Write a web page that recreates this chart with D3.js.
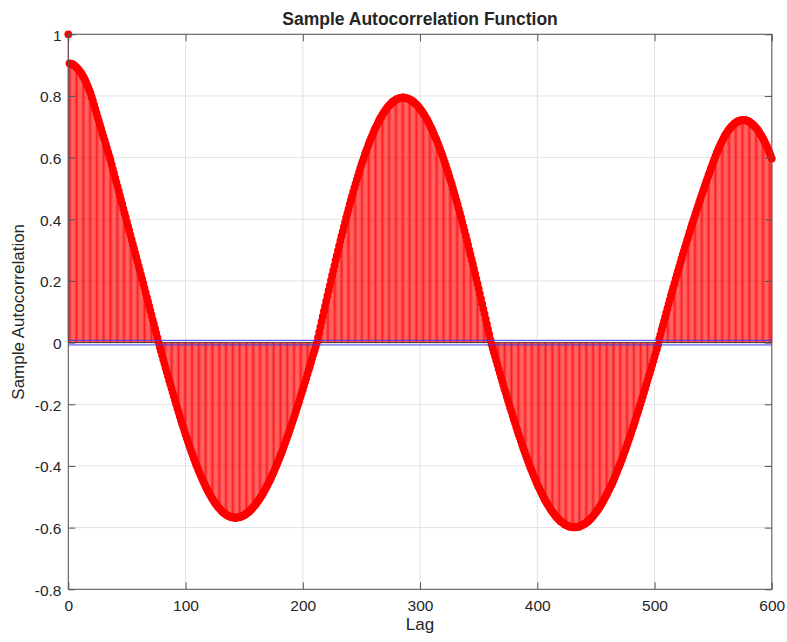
<!DOCTYPE html>
<html>
<head>
<meta charset="utf-8">
<script src="https://cdn.jsdelivr.net/npm/d3@7"></script>
<style>
  html, body { margin: 0; padding: 0; background: #fff; }
  svg text { font-family: "Liberation Sans", Arial, Helvetica, sans-serif; fill: #262626; }
</style>
</head>
<body>
<div id="chart"></div>
<script>
// sample autocorrelation for lags 0..600 (one row = 10 lags)
const acf = [
  1.000,
  0.906, 0.905, 0.904, 0.902, 0.899, 0.896, 0.893, 0.889, 0.884, 0.879,
  0.874, 0.868, 0.861, 0.854, 0.846, 0.837, 0.828, 0.818, 0.808, 0.796,
  0.784, 0.771, 0.758, 0.745, 0.732, 0.720, 0.707, 0.694, 0.681, 0.668,
  0.656, 0.643, 0.630, 0.617, 0.604, 0.592, 0.577, 0.563, 0.549, 0.534,
  0.520, 0.506, 0.492, 0.477, 0.463, 0.449, 0.434, 0.420, 0.406, 0.391,
  0.377, 0.363, 0.349, 0.334, 0.320, 0.306, 0.291, 0.277, 0.263, 0.248,
  0.234, 0.220, 0.206, 0.191, 0.177, 0.162, 0.147, 0.133, 0.118, 0.104,
  0.089, 0.074, 0.060, 0.045, 0.031, 0.016, 0.001, -0.014, -0.027, -0.041,
  -0.055, -0.068, -0.082, -0.095, -0.108, -0.122, -0.135, -0.148, -0.161, -0.174,
  -0.187, -0.200, -0.213, -0.225, -0.238, -0.250, -0.262, -0.274, -0.286, -0.298,
  -0.309, -0.321, -0.332, -0.343, -0.354, -0.364, -0.375, -0.385, -0.395, -0.404,
  -0.414, -0.423, -0.432, -0.441, -0.449, -0.457, -0.466, -0.473, -0.480, -0.488,
  -0.494, -0.501, -0.507, -0.513, -0.519, -0.524, -0.529, -0.534, -0.538, -0.542,
  -0.547, -0.550, -0.553, -0.556, -0.559, -0.561, -0.563, -0.564, -0.566, -0.567,
  -0.567, -0.568, -0.568, -0.567, -0.567, -0.566, -0.565, -0.563, -0.561, -0.560,
  -0.557, -0.554, -0.551, -0.549, -0.545, -0.541, -0.537, -0.533, -0.528, -0.523,
  -0.518, -0.513, -0.507, -0.501, -0.496, -0.489, -0.482, -0.475, -0.469, -0.461,
  -0.453, -0.446, -0.438, -0.429, -0.421, -0.412, -0.403, -0.394, -0.385, -0.375,
  -0.366, -0.356, -0.346, -0.335, -0.325, -0.314, -0.304, -0.293, -0.282, -0.270,
  -0.259, -0.248, -0.236, -0.224, -0.212, -0.201, -0.189, -0.176, -0.164, -0.152,
  -0.140, -0.127, -0.115, -0.102, -0.089, -0.077, -0.064, -0.051, -0.038, -0.026,
  -0.013, 0.000, 0.017, 0.034, 0.051, 0.068, 0.085, 0.102, 0.118, 0.135,
  0.152, 0.169, 0.185, 0.202, 0.218, 0.234, 0.250, 0.267, 0.282, 0.298,
  0.314, 0.330, 0.345, 0.360, 0.375, 0.390, 0.405, 0.419, 0.433, 0.448,
  0.462, 0.475, 0.489, 0.502, 0.515, 0.528, 0.540, 0.553, 0.565, 0.577,
  0.588, 0.599, 0.611, 0.621, 0.631, 0.642, 0.652, 0.661, 0.670, 0.679,
  0.689, 0.696, 0.704, 0.712, 0.720, 0.727, 0.733, 0.740, 0.746, 0.751,
  0.757, 0.762, 0.767, 0.771, 0.774, 0.778, 0.782, 0.784, 0.787, 0.789,
  0.791, 0.792, 0.793, 0.794, 0.795, 0.795, 0.794, 0.793, 0.792, 0.791,
  0.789, 0.787, 0.785, 0.782, 0.779, 0.775, 0.772, 0.768, 0.763, 0.758,
  0.753, 0.748, 0.742, 0.736, 0.729, 0.723, 0.716, 0.708, 0.700, 0.693,
  0.684, 0.675, 0.666, 0.658, 0.648, 0.638, 0.628, 0.618, 0.608, 0.596,
  0.585, 0.574, 0.563, 0.551, 0.538, 0.526, 0.514, 0.501, 0.488, 0.474,
  0.461, 0.448, 0.434, 0.420, 0.406, 0.391, 0.376, 0.362, 0.347, 0.332,
  0.317, 0.301, 0.286, 0.270, 0.255, 0.239, 0.223, 0.207, 0.191, 0.175,
  0.158, 0.142, 0.126, 0.109, 0.093, 0.076, 0.060, 0.043, 0.027, 0.010,
  -0.005, -0.019, -0.032, -0.045, -0.058, -0.071, -0.085, -0.098, -0.111, -0.124,
  -0.137, -0.150, -0.162, -0.175, -0.188, -0.200, -0.213, -0.225, -0.237, -0.250,
  -0.261, -0.273, -0.285, -0.297, -0.308, -0.319, -0.330, -0.342, -0.352, -0.363,
  -0.373, -0.384, -0.394, -0.404, -0.413, -0.423, -0.432, -0.441, -0.450, -0.459,
  -0.467, -0.475, -0.483, -0.491, -0.498, -0.506, -0.513, -0.520, -0.526, -0.532,
  -0.538, -0.544, -0.549, -0.554, -0.559, -0.564, -0.568, -0.572, -0.576, -0.580,
  -0.582, -0.585, -0.588, -0.591, -0.592, -0.594, -0.596, -0.597, -0.598, -0.598,
  -0.599, -0.599, -0.598, -0.598, -0.597, -0.596, -0.594, -0.592, -0.591, -0.588,
  -0.586, -0.583, -0.580, -0.577, -0.573, -0.569, -0.565, -0.560, -0.555, -0.550,
  -0.545, -0.540, -0.534, -0.528, -0.522, -0.515, -0.508, -0.501, -0.494, -0.487,
  -0.479, -0.471, -0.463, -0.455, -0.446, -0.437, -0.428, -0.419, -0.409, -0.399,
  -0.390, -0.380, -0.370, -0.359, -0.349, -0.338, -0.327, -0.316, -0.305, -0.294,
  -0.282, -0.271, -0.259, -0.247, -0.235, -0.223, -0.211, -0.199, -0.186, -0.174,
  -0.161, -0.149, -0.136, -0.123, -0.110, -0.098, -0.085, -0.072, -0.059, -0.046,
  -0.033, -0.020, -0.007, 0.012, 0.026, 0.041, 0.055, 0.069, 0.083, 0.097,
  0.111, 0.125, 0.139, 0.153, 0.166, 0.180, 0.193, 0.207, 0.220, 0.233,
  0.246, 0.259, 0.272, 0.285, 0.297, 0.310, 0.322, 0.335, 0.347, 0.359,
  0.372, 0.384, 0.396, 0.407, 0.419, 0.431, 0.442, 0.454, 0.465, 0.477,
  0.488, 0.499, 0.510, 0.521, 0.532, 0.543, 0.553, 0.564, 0.574, 0.585,
  0.595, 0.605, 0.615, 0.624, 0.633, 0.641, 0.649, 0.657, 0.664, 0.671,
  0.677, 0.683, 0.689, 0.694, 0.698, 0.703, 0.706, 0.710, 0.713, 0.715,
  0.718, 0.719, 0.721, 0.721, 0.722, 0.722, 0.722, 0.721, 0.720, 0.718,
  0.716, 0.713, 0.710, 0.707, 0.703, 0.699, 0.695, 0.690, 0.684, 0.678,
  0.672, 0.666, 0.658, 0.651, 0.643, 0.635, 0.626, 0.617, 0.607, 0.597
];
const lags = d3.range(acf.length);

// confidence bounds (blue lines hugging zero)
const bounds = [0.0075, -0.0075];

const xTicks = [0, 100, 200, 300, 400, 500, 600];
const yTicks = [-0.8, -0.6, -0.4, -0.2, 0, 0.2, 0.4, 0.6, 0.8, 1];

const titleText = "Sample Autocorrelation Function";
const xLabelText = "Lag";
const yLabelText = "Sample Autocorrelation";

// layout
const width = 787, height = 642;
const plotLeft = 68.3, plotRight = 771.8, plotTop = 34.3, plotBottom = 589.3;
const tickLen = 7, markerR = 3.9;

const svg = d3.select("#chart")
    .append("svg")
    .attr("width", width)
    .attr("height", height);

svg.append("rect").attr("width", width).attr("height", height).attr("fill", "#fff");

const x = d3.scaleLinear().domain([0, 600]).range([plotLeft, plotRight]);
const y = d3.scaleLinear().domain([-0.8, 1]).range([plotBottom, plotTop]);

// grid
const grid = svg.append("g").attr("stroke", "#e2e2e2").attr("stroke-width", 1);
grid.selectAll(".gx").data(xTicks).join("line")
    .attr("x1", d => x(d)).attr("x2", d => x(d))
    .attr("y1", plotTop).attr("y2", plotBottom);
grid.selectAll(".gy").data(yTicks).join("line")
    .attr("x1", plotLeft).attr("x2", plotRight)
    .attr("y1", d => y(d)).attr("y2", d => y(d));

// stems
svg.append("g")
    .attr("stroke", "#ff0000")
    .attr("stroke-width", 0.9)
    .selectAll("line").data(lags).join("line")
    .attr("x1", d => x(d)).attr("x2", d => x(d))
    .attr("y1", y(0)).attr("y2", d => y(acf[d]));

// stem baseline
svg.append("line")
    .attr("x1", x(0)).attr("x2", x(600))
    .attr("y1", y(0)).attr("y2", y(0))
    .attr("stroke", "#1a1a1a").attr("stroke-width", 0.8);

// markers
svg.append("g")
    .attr("fill", "#ff0000")
    .selectAll("circle").data(lags).join("circle")
    .attr("cx", d => x(d))
    .attr("cy", d => y(acf[d]))
    .attr("r", markerR);

// bounds
svg.append("g")
    .attr("stroke", "#3c3cf0").attr("stroke-width", 1)
    .selectAll("line").data(bounds).join("line")
    .attr("x1", x(0)).attr("x2", x(600))
    .attr("y1", d => y(d)).attr("y2", d => y(d));

// axes (ticks inward on all four sides)
function styleAxis(g) {
    g.attr("font-family", null).attr("font-size", null);
    g.select(".domain").remove();
    g.selectAll(".tick line").attr("stroke", "#555");
    g.selectAll(".tick text").style("font-size", "15.5px").attr("fill", "#262626");
}

svg.append("g")
    .attr("transform", `translate(0,${plotBottom})`)
    .call(d3.axisBottom(x).tickValues(xTicks).tickSize(-tickLen).tickPadding(11).tickFormat(d3.format("d")))
    .call(styleAxis);

svg.append("g")
    .attr("transform", `translate(0,${plotTop})`)
    .call(d3.axisTop(x).tickValues(xTicks).tickSize(-tickLen).tickFormat(""))
    .call(styleAxis);

svg.append("g")
    .attr("transform", `translate(${plotLeft},0)`)
    .call(d3.axisLeft(y).tickValues(yTicks).tickSize(-tickLen).tickPadding(6.8)
        .tickFormat(d => String(+d.toFixed(1))))
    .call(styleAxis)
    .call(g => g.selectAll(".tick text").attr("dy", "0.38em"));

svg.append("g")
    .attr("transform", `translate(${plotRight},0)`)
    .call(d3.axisRight(y).tickValues(yTicks).tickSize(-tickLen).tickFormat(""))
    .call(styleAxis);

// box
svg.append("rect")
    .attr("x", plotLeft).attr("y", plotTop)
    .attr("width", plotRight - plotLeft).attr("height", plotBottom - plotTop)
    .attr("fill", "none")
    .attr("stroke", "#555").attr("stroke-width", 1);

// labels
svg.append("text")
    .attr("x", (plotLeft + plotRight) / 2).attr("y", 24.5)
    .attr("text-anchor", "middle")
    .style("font-size", "17.5px").style("font-weight", "bold")
    .attr("fill", "#000")
    .text(titleText);

svg.append("text")
    .attr("x", (plotLeft + plotRight) / 2).attr("y", 630)
    .attr("text-anchor", "middle")
    .style("font-size", "17px")
    .text(xLabelText);

svg.append("text")
    .attr("transform", `translate(23.5,${(plotTop + plotBottom) / 2}) rotate(-90)`)
    .attr("text-anchor", "middle")
    .style("font-size", "17px")
    .text(yLabelText);
</script>
</body>
</html>
